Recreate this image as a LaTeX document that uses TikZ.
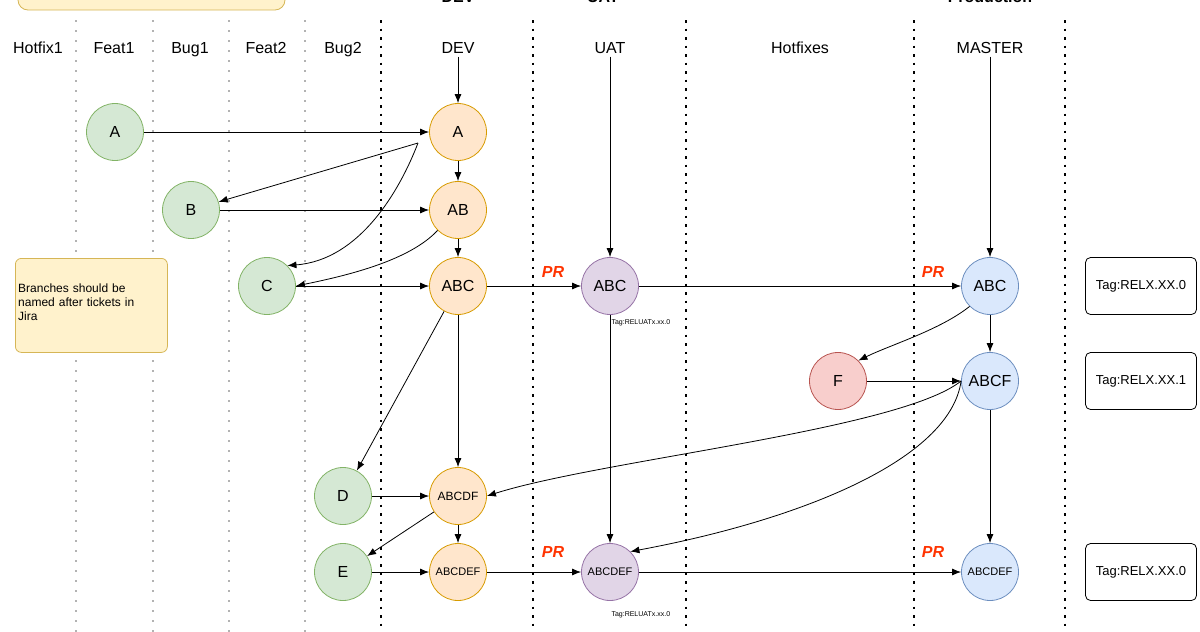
\documentclass[tikz,border=0pt]{standalone}
\usepackage{fontspec}
\setmainfont{Liberation Sans}
\usetikzlibrary{arrows.meta}
\definecolor{gfill}{HTML}{D5E8D4}\definecolor{gdraw}{HTML}{82B366}
\definecolor{ofill}{HTML}{FFE6CC}\definecolor{odraw}{HTML}{D79B00}
\definecolor{pfill}{HTML}{E1D5E7}\definecolor{pdraw}{HTML}{9673A6}
\definecolor{bfill}{HTML}{DAE8FC}\definecolor{bdraw}{HTML}{6C8EBF}
\definecolor{rfill}{HTML}{F8CECC}\definecolor{rdraw}{HTML}{B85450}
\definecolor{yfill}{HTML}{FFF2CC}\definecolor{ydraw}{HTML}{D6B656}
\definecolor{prc}{HTML}{FF3300}
\begin{document}
\begin{tikzpicture}[x=1pt,y=-1pt,
 every node/.style={font=\fontsize{16}{18}\selectfont},
 cir/.style={circle,minimum size=57pt,inner sep=0pt,line width=0.8pt},
 gn/.style={cir,fill=gfill,draw=gdraw},
 on/.style={cir,fill=ofill,draw=odraw},
 pn/.style={cir,fill=pfill,draw=pdraw},
 bn/.style={cir,fill=bfill,draw=bdraw},
 rn/.style={cir,fill=rfill,draw=rdraw},
 sm/.style={font=\fontsize{12}{14}\selectfont},
 tagbox/.style={draw,rounded corners=5pt,minimum width=111pt,minimum height=57pt,line width=0.8pt,font=\fontsize{13}{15}\selectfont},
 arr/.style={-{Latex[length=9pt,width=7pt]},line width=0.8pt},
 pr/.style={text=prc,font=\fontsize{16}{18}\selectfont\bfseries\itshape},
 gline/.style={gray!60,line width=2pt,dash pattern=on 2pt off 8pt},
 bline/.style={black,line width=2.5pt,dash pattern=on 2.5pt off 6pt},
 hdr/.style={anchor=base}]
\useasboundingbox (0,0) rectangle (1200,632);
\clip (0,0) rectangle (1200,632);
\foreach \x in {76,153,229,305} \draw[gline] (\x,20) -- (\x,632);
\foreach \x in {381,533,686,914,1065} \draw[bline] (\x,20) -- (\x,632);
\draw[fill=yfill,draw=ydraw,rounded corners=10pt,line width=0.8pt] (18,-20) rectangle (285,10);
\node[font=\fontsize{16}{18}\selectfont\bfseries] (tdev) at (458,-3) {DEV};
\node[font=\fontsize{16}{18}\selectfont\bfseries] (tuat) at (603,-3) {UAT};
\node[font=\fontsize{16}{18}\selectfont\bfseries] (tprod) at (990,-3) {Production};
\foreach \t/\x in {Hotfix1/38,Feat1/114,Bug1/190,Feat2/266,Bug2/343,Hotfixes/800}
  \node[hdr] (h\t) at (\x,53) {\t};
\node[hdr] (hdev) at (458,53) {DEV};
\node[hdr] (huat) at (610,53) {UAT};
\node[hdr] (hmas) at (990,53) {MASTER};
\node[gn] (gA) at (115,132) {A};
\node[gn] (gB) at (191,210) {B};
\node[gn] (gC) at (267,286) {C};
\node[gn] (gD) at (343,496) {D};
\node[gn] (gE) at (343,572) {E};
\node[on] (dA) at (458,132) {A};
\node[on] (dAB) at (458,210) {AB};
\node[on] (dABC) at (458,286) {ABC};
\node[on,sm] (dABCDF) at (458,496) {ABCDF};
\node[on,font=\fontsize{11}{13}\selectfont] (dABCDEF) at (458,572) {ABCDEF};
\node[pn] (uABC) at (610,286) {ABC};
\node[pn,font=\fontsize{11}{13}\selectfont] (uABCDEF) at (610,572) {ABCDEF};
\node[rn] (rF) at (838,381) {F};
\node[bn] (mABC) at (990,286) {ABC};
\node[bn] (mABCF) at (990,381) {ABCF};
\node[bn,font=\fontsize{11}{13}\selectfont] (mABCDEF) at (990,572) {ABCDEF};
\node[tagbox] (t1) at (1141,286) {Tag:RELX.XX.0};
\node[tagbox] (t2) at (1141,381) {Tag:RELX.XX.1};
\node[tagbox] (t3) at (1141,572) {Tag:RELX.XX.0};
\node[font=\fontsize{7}{8}\selectfont,anchor=west] (ut1) at (608,323) {Tag:RELUATx.xx.0};
\node[font=\fontsize{7}{8}\selectfont,anchor=west] (ut2) at (608,615) {Tag:RELUATx.xx.0};
\node[fill=yfill,draw=ydraw,rounded corners=6pt,line width=0.8pt,minimum width=152pt,minimum height=94pt,anchor=north west] (note) at (15,258) {};
\node[anchor=north west,align=left,font=\fontsize{12}{14}\selectfont,text width=128pt,inner sep=0pt] (notet) at (18,284) {Branches should be named after tickets in Jira};
\node[pr] (pr1) at (553,272) {PR};
\node[pr] (pr2) at (933,272) {PR};
\node[pr] (pr3) at (553,552) {PR};
\node[pr] (pr4) at (933,552) {PR};
\draw[arr] (hdev) -- (dA);
\draw[arr] (huat) -- (uABC);
\draw[arr] (hmas) -- (mABC);
\draw[arr] (gA) -- (dA);
\coordinate (aL) at (418,143);
\draw[arr] (aL) -- (gB);
\draw[arr] (aL) .. controls (400,190) and (360,260) .. (gC.north east);
\draw[arr] (dAB.south west) .. controls (410,260) and (350,275) .. (gC.east);
\draw[arr] (gB) -- (dAB);
\draw[arr] (dA) -- (dAB);
\draw[arr] (dAB) -- (dABC);
\draw[arr] (gC) -- (dABC);
\draw[arr] (dABC) -- (uABC);
\draw[arr] (uABC) -- (mABC);
\draw[arr] (mABC) -- (mABCF);
\draw[arr] (mABC.south west) .. controls (940,330) and (890,345) .. (rF.north east);
\draw[arr] (rF) -- (mABCF);
\draw[arr] (mABCF.west) .. controls (900,430) and (600,460) .. (dABCDF.east);
\draw[arr] (mABCF.west) .. controls (950,460) and (800,520) .. (uABCDEF.north east);
\draw[arr] (mABCF) -- (mABCDEF);
\draw[arr] (dABC) -- (gD);
\draw[arr] (dABC) -- (dABCDF);
\draw[arr] (gD) -- (dABCDF);
\draw[arr] (dABCDF) -- (gE);
\draw[arr] (dABCDF) -- (dABCDEF);
\draw[arr] (gE) -- (dABCDEF);
\draw[arr] (dABCDEF) -- (uABCDEF);
\draw[arr] (uABCDEF) -- (mABCDEF);
\draw[arr] (uABC) -- (uABCDEF);
\end{tikzpicture}
\end{document}
